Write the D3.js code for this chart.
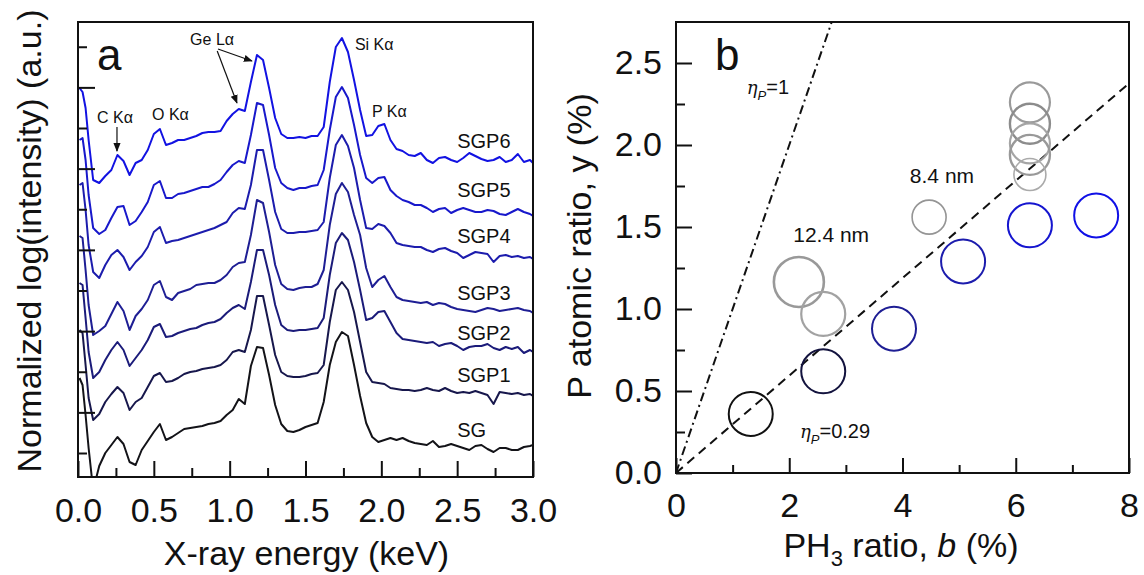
<!DOCTYPE html>
<html>
<head>
<meta charset="utf-8">
<script src="https://cdn.jsdelivr.net/npm/d3@7"></script>
<style>
body { margin: 0; background: #fff; }
text { font-family: "Liberation Sans", Arial, sans-serif; fill: #111; }
</style>
</head>
<body>
<div id="chart"></div>
<script>
// ---------- panel a : EDX spectra (normalized log intensity, stacked) ----------
var energy = [0.01,0.03,0.05,0.07,0.10,0.14,0.18,0.22,0.26,0.30,0.34,0.38,0.42,0.46,0.50,0.54,0.58,0.62,0.66,0.70,0.74,0.78,0.82,0.86,0.90,0.94,0.98,
  1.02,1.06,1.10,1.14,1.18,1.22,1.26,1.30,1.34,1.38,1.42,1.46,1.50,1.54,1.58,1.62,1.66,1.70,1.74,1.78,1.82,1.86,1.90,1.94,1.98,
  2.02,2.06,2.10,2.14,2.18,2.22,2.26,2.30,2.34,2.38,2.42,2.46,2.50,2.54,2.58,2.62,2.66,2.70,2.74,2.78,2.82,2.86,2.90,2.94,2.98,3.00];

var specSG = [75,68,38,5,
  -37,-13,0,8,16,9,-9,-12,3,12,21,29,13,16,20,24,25,26,27,29,30,32,38,
  43,54,49,87,106,105,78,48,29,22,21,23,26,28,30,51,88,111,121,117,88,57,30,16,11,
  13,15,13,15,12,10,9,8,12,6,7,9,7,5,3,7,8,4,1,5,5,3,3,6,7,8];
var specSGP1 = [123,120,88,55,
  33,39,51,59,66,60,43,51,55,66,77,80,71,72,75,79,81,82,84,85,86,88,93,
  101,103,101,123,157,157,128,98,81,77,76,76,77,79,80,88,131,163,171,163,141,111,81,71,70,
  69,65,64,63,63,62,63,65,63,62,65,62,60,61,60,62,60,58,49,61,60,59,60,58,59,57];
var specSGP2 = [170,168,135,101,
  75,81,93,103,111,103,87,95,103,113,126,129,116,117,120,122,124,125,128,130,131,134,140,
  145,148,144,171,203,203,178,148,128,123,122,123,123,124,125,135,178,210,220,213,191,163,133,135,141,
  142,131,120,114,113,112,111,110,111,107,109,110,107,103,106,107,107,109,105,103,106,104,106,100,103,101];
var specSGP3 = [217,215,183,148,
  118,122,127,139,151,142,123,137,144,153,168,172,156,153,160,162,164,168,169,170,170,173,178,
  186,190,191,218,253,250,221,188,169,164,163,165,166,166,169,183,228,259,270,261,238,218,185,166,173,
  177,166,156,153,152,151,150,151,148,150,149,146,144,143,142,141,143,145,144,142,143,144,145,143,142,140];
var specSGP4 = [268,270,243,208,
  181,175,188,198,203,196,183,191,197,206,221,226,210,212,213,215,217,219,221,223,225,228,231,
  240,245,244,268,303,303,273,241,224,220,220,221,221,222,223,231,275,308,318,307,285,253,225,224,229,
  227,220,210,208,207,206,206,203,201,204,205,202,200,195,198,201,200,199,191,197,198,196,197,195,196,194];
var specSGP5 = [313,315,293,258,
  225,219,223,235,246,247,228,232,241,251,268,272,255,255,259,260,262,264,266,266,269,273,281,
  288,292,290,318,350,348,318,285,270,265,263,265,265,267,268,283,323,356,366,355,328,298,275,270,275,
  276,263,257,253,251,248,248,245,241,244,245,240,243,245,243,241,241,243,242,239,238,241,244,241,239,237];
var specSGP6 = [365,361,345,313,
  273,270,277,283,298,292,278,290,293,303,319,324,308,310,313,313,315,317,320,321,321,322,332,
  339,344,342,371,398,393,365,335,319,315,315,316,315,317,317,326,371,406,415,401,373,343,317,318,327,
  329,313,304,302,298,297,300,293,290,295,296,293,291,295,300,297,294,292,293,296,291,293,299,291,293,290];

var sampleNames = ["SG", "SGP1", "SGP2", "SGP3", "SGP4", "SGP5", "SGP6"];
var spectra = [specSG, specSGP1, specSGP2, specSGP3, specSGP4, specSGP5, specSGP6];
var sampleLabelLevel = [16, 71, 113, 153, 210, 256, 305];   // label baseline, same units as spectra

var xTicksMajorA = [0, 0.5, 1.0, 1.5, 2.0, 2.5, 3.0];
var xTicksMinorA = [0.25, 0.75, 1.25, 1.75, 2.25, 2.75];

var peakNames = ["C K\u03b1", "O K\u03b1", "Ge L\u03b1", "Si K\u03b1", "P K\u03b1"];
var peakLabelE = [0.125, 0.488, 0.884, 1.826, 1.938];
var peakLabelV = [330, 333, 408, 403, 336];

// ---------- panel b : P atomic ratio vs PH3 ratio ----------
var phRatio = [1.32, 2.60, 3.85, 5.07, 6.25, 7.42];
var pAtomic = [0.36, 0.62, 0.88, 1.29, 1.51, 1.57];
var phRatioGray = [2.17, 2.60, 4.47, 6.25, 6.25, 6.25, 6.25, 6.25];
var pAtomicGray = [1.165, 0.97, 1.56, 2.26, 2.13, 2.01, 1.94, 1.82];
var etaSlopes = [1, 0.297];
var xTicksMajorB = [0, 2, 4, 6, 8];
var xTicksMinorB = [1, 3, 5, 7];
var yTicksMajorB = [0, 0.5, 1.0, 1.5, 2.0, 2.5];
var yTicksMinorB = [0.25, 0.75, 1.25, 1.75, 2.25];

// styles
var specColors = ["#131318", "#17174c", "#1b1b7a", "#1e1e94", "#1c1cad", "#1818cb", "#1212e2"];
var blueCircleColors = ["#111111", "#13133e", "#1e1e94", "#1c1cad", "#1515cf", "#1010e6"];
var grayRadius = [25, 22, 17, 20, 20, 20, 20, 16];
var grayColors = ["#999", "#a2a2a2", "#959595", "#9a9a9a", "#8c8c8c", "#a5a5a5", "#999", "#aaa"];
var grayWidths = [2.6, 2.2, 1.6, 2.2, 2.4, 2.2, 2.4, 1.6];

var W = 1144, H = 575;
var svg = d3.select("#chart").append("svg").attr("width", W).attr("height", H);
svg.append("rect").attr("width", W).attr("height", H).attr("fill", "#fff");
var defs = svg.append("defs");

defs.append("marker").attr("id", "arrow")
  .attr("viewBox", "0 0 10 10").attr("refX", 9).attr("refY", 5)
  .attr("markerWidth", 9).attr("markerHeight", 9).attr("orient", "auto")
  .attr("markerUnits", "userSpaceOnUse")
  .append("path").attr("d", "M0,1 L10,5 L0,9 Z").attr("fill", "#111");

function styleAxis(g, fontSize) {
  g.select(".domain").remove();
  g.selectAll(".tick line").attr("stroke", "#111").attr("stroke-width", 2);
  g.selectAll(".tick text").attr("font-size", fontSize).attr("fill", "#111")
    .attr("font-family", '"Liberation Sans", Arial, sans-serif');
}

// ================= panel a =================
var A = {left: 78, right: 533, top: 22, bottom: 477};
var xA = d3.scaleLinear().domain([0, 3]).range([A.left, A.right]);
var yA = d3.scaleLinear().domain([-24, 431]).range([A.bottom, A.top]);

defs.append("clipPath").attr("id", "clipA").append("rect")
  .attr("x", A.left).attr("y", A.top)
  .attr("width", A.right - A.left).attr("height", A.bottom - A.top);

var lineA = d3.line()
  .x((d, i) => xA(energy[i]))
  .y(d => yA(d));

svg.append("g").attr("clip-path", "url(#clipA)")
  .selectAll("path.spec")
  .data(spectra)
  .enter().append("path")
  .attr("class", "spec")
  .attr("d", lineA)
  .attr("fill", "none")
  .attr("stroke", (d, i) => specColors[i])
  .attr("stroke-width", 2)
  .attr("stroke-linejoin", "round");

// axes a
var yTicksA = d3.range(0, 431, 40.625);
var gyA = svg.append("g").attr("transform", `translate(${A.left},0)`);
gyA.call(d3.axisLeft(yA).tickValues(yTicksA.filter((d, i) => i % 2 == 0)).tickSize(-9).tickFormat(""));
styleAxis(gyA, 34);
var gyA2 = svg.append("g").attr("transform", `translate(${A.left},0)`);
gyA2.call(d3.axisLeft(yA).tickValues(yTicksA.filter((d, i) => i % 2 == 1)).tickSize(-17).tickFormat(""));
styleAxis(gyA2, 34);

var gxA = svg.append("g").attr("transform", `translate(0,${A.bottom})`);
gxA.call(d3.axisBottom(xA).tickValues(xTicksMinorA).tickSize(-9).tickFormat(""));
styleAxis(gxA, 34);
var gxA2 = svg.append("g").attr("transform", `translate(0,${A.bottom})`);
gxA2.call(d3.axisBottom(xA).tickValues(xTicksMajorA).tickSize(-16).tickPadding(21).tickFormat(d3.format(".1f")));
styleAxis(gxA2, 34);

svg.append("rect")
  .attr("x", A.left).attr("y", A.top)
  .attr("width", A.right - A.left).attr("height", A.bottom - A.top)
  .attr("fill", "none").attr("stroke", "#111").attr("stroke-width", 2);

svg.append("text").attr("x", (A.left + A.right) / 2 + 1).attr("y", 565)
  .attr("text-anchor", "middle").attr("font-size", 34).text("X-ray energy (keV)");
svg.append("text").attr("transform", "translate(41,241) rotate(-90)")
  .attr("text-anchor", "middle").attr("font-size", 34).text("Normalized log(intensity) (a.u.)");

svg.append("text").attr("x", A.left + 19).attr("y", 70).attr("font-size", 44).text("a");

// sample labels
svg.selectAll("text.sname")
  .data(sampleNames)
  .enter().append("text")
  .attr("class", "sname")
  .attr("x", xA(2.5))
  .attr("y", (d, i) => yA(sampleLabelLevel[i]))
  .attr("font-size", 20)
  .text(d => d);

// peak labels
svg.selectAll("text.peak")
  .data(peakNames)
  .enter().append("text")
  .attr("class", "peak")
  .attr("x", (d, i) => xA(peakLabelE[i]))
  .attr("y", (d, i) => yA(peakLabelV[i]))
  .attr("text-anchor", (d, i) => i == 2 ? "middle" : "start")
  .attr("font-size", 16)
  .text(d => d);

// arrows: [fromE, fromV, toE, toV]
var arrows = [[0.257, 326, 0.257, 302], [0.923, 404, 1.147, 392], [0.918, 402, 1.048, 350]];
svg.selectAll("line.arrow")
  .data(arrows)
  .enter().append("line")
  .attr("class", "arrow")
  .attr("x1", d => xA(d[0])).attr("y1", d => yA(d[1]))
  .attr("x2", d => xA(d[2])).attr("y2", d => yA(d[3]))
  .attr("stroke", "#111").attr("stroke-width", 1.2)
  .attr("marker-end", "url(#arrow)");

// ================= panel b =================
var B = {left: 676, right: 1129, top: 22, bottom: 473};
var xB = d3.scaleLinear().domain([0, 8]).range([B.left, B.right]);
var yB = d3.scaleLinear().domain([0, 2.75]).range([B.bottom, B.top]);

defs.append("clipPath").attr("id", "clipB").append("rect")
  .attr("x", B.left).attr("y", B.top)
  .attr("width", B.right - B.left).attr("height", B.bottom - B.top);

var gB = svg.append("g").attr("clip-path", "url(#clipB)");
gB.selectAll("line.eta")
  .data(etaSlopes)
  .enter().append("line")
  .attr("class", "eta")
  .attr("x1", xB(0)).attr("y1", yB(0))
  .attr("x2", xB(8)).attr("y2", d => yB(8 * d))
  .attr("stroke", "#111").attr("stroke-width", 2)
  .attr("stroke-dasharray", (d, i) => i == 0 ? "9,4,2,4" : "9,6");

gB.selectAll("circle.gray")
  .data(phRatioGray)
  .enter().append("circle")
  .attr("class", "gray")
  .attr("cx", d => xB(d))
  .attr("cy", (d, i) => yB(pAtomicGray[i]))
  .attr("r", (d, i) => grayRadius[i])
  .attr("fill", "none")
  .attr("stroke", (d, i) => grayColors[i])
  .attr("stroke-width", (d, i) => grayWidths[i]);

gB.selectAll("circle.dope")
  .data(phRatio)
  .enter().append("circle")
  .attr("class", "dope")
  .attr("cx", d => xB(d))
  .attr("cy", (d, i) => yB(pAtomic[i]))
  .attr("r", 22)
  .attr("fill", "none")
  .attr("stroke", (d, i) => blueCircleColors[i])
  .attr("stroke-width", 2);

// axes b
var gyB = svg.append("g").attr("transform", `translate(${B.left},0)`);
gyB.call(d3.axisLeft(yB).tickValues(yTicksMinorB).tickSize(-9).tickFormat(""));
styleAxis(gyB, 34);
var gyB2 = svg.append("g").attr("transform", `translate(${B.left},0)`);
gyB2.call(d3.axisLeft(yB).tickValues(yTicksMajorB).tickSize(-16).tickPadding(14).tickFormat(d3.format(".1f")));
styleAxis(gyB2, 34);

var gxB = svg.append("g").attr("transform", `translate(0,${B.bottom})`);
gxB.call(d3.axisBottom(xB).tickValues(xTicksMinorB).tickSize(-8).tickFormat(""));
styleAxis(gxB, 34);
var gxB2 = svg.append("g").attr("transform", `translate(0,${B.bottom})`);
gxB2.call(d3.axisBottom(xB).tickValues(xTicksMajorB).tickSize(-15).tickPadding(20).tickFormat(d3.format("d")));
styleAxis(gxB2, 34);

svg.append("rect")
  .attr("x", B.left).attr("y", B.top)
  .attr("width", B.right - B.left).attr("height", B.bottom - B.top)
  .attr("fill", "none").attr("stroke", "#111").attr("stroke-width", 2);

var xlabB = svg.append("text").attr("x", 901).attr("y", 557)
  .attr("text-anchor", "middle").attr("font-size", 34);
xlabB.append("tspan").text("PH");
xlabB.append("tspan").attr("font-size", 22).attr("dy", 9).text("3");
xlabB.append("tspan").attr("dy", -9).text(" ratio, ");
xlabB.append("tspan").attr("font-style", "italic").text("b");
xlabB.append("tspan").text(" (%)");

svg.append("text").attr("transform", "translate(591,246) rotate(-90)")
  .attr("text-anchor", "middle").attr("font-size", 34).text("P atomic ratio, y (%)");

svg.append("text").attr("x", B.left + 39).attr("y", 70).attr("font-size", 44).text("b");

function etaLabel(b, y, value) {
  var t = svg.append("text").attr("x", xB(b)).attr("y", yB(y)).attr("font-size", 20);
  t.append("tspan").attr("font-style", "italic").attr("font-family", '"DejaVu Serif", serif').attr("font-size", 18).text("\u03b7");
  t.append("tspan").attr("font-style", "italic").attr("font-size", 13).attr("dy", 6).text("P");
  t.append("tspan").attr("dy", -6).text("=" + value);
}
etaLabel(1.25, 2.31, "1");
etaLabel(2.19, 0.215, "0.29");

svg.append("text").attr("x", xB(4.13)).attr("y", yB(1.77)).attr("font-size", 21).text("8.4 nm");
svg.append("text").attr("x", xB(2.07)).attr("y", yB(1.41)).attr("font-size", 21).text("12.4 nm");
</script>
</body>
</html>
